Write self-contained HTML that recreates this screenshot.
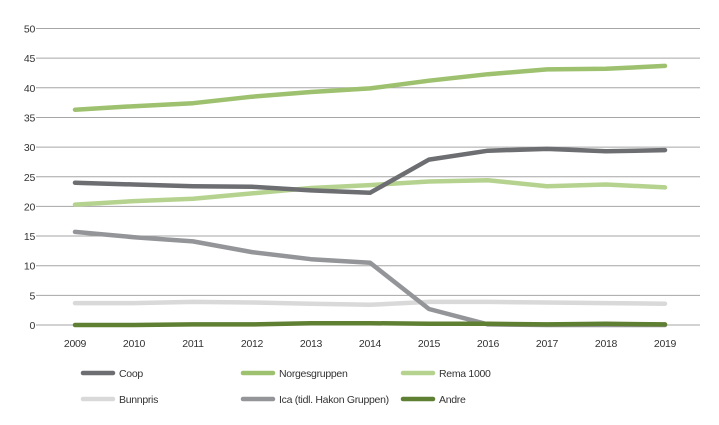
<!DOCTYPE html>
<html><head><meta charset="utf-8"><style>
html,body{margin:0;padding:0;background:#fff;}
svg{display:block;font-family:"Liberation Sans",sans-serif;}
text{letter-spacing:-0.3px;}
</style></head><body>
<svg id="chart" width="719" height="425" xmlns="http://www.w3.org/2000/svg"></svg>
<script>
const years = [2009,2010,2011,2012,2013,2014,2015,2016,2017,2018,2019];
const yTicks = [0,5,10,15,20,25,30,35,40,45,50];
const seriesNames = ["Coop","Norgesgruppen","Rema 1000","Bunnpris","Ica (tidl. Hakon Gruppen)","Andre"];
const coop = [24.0,23.7,23.4,23.3,22.7,22.3,27.9,29.4,29.7,29.3,29.5];
const norgesgruppen = [36.3,36.9,37.4,38.5,39.3,39.9,41.2,42.3,43.1,43.2,43.7];
const rema = [20.3,20.9,21.3,22.2,23.1,23.6,24.2,24.4,23.4,23.7,23.2];
const bunnpris = [3.7,3.7,3.9,3.8,3.6,3.4,3.9,3.9,3.8,3.7,3.6];
const ica = [15.7,14.8,14.1,12.3,11.1,10.5,2.7,0.1,0,0,0];
const andre = [0,0,0.1,0.1,0.3,0.3,0.2,0.2,0.1,0.2,0.1];

const svg = document.getElementById('chart');
const NS = "http://www.w3.org/2000/svg";
const x0=75, x1=665, y0=325, y1=28.5, yMax=50;
const xS = i => x0 + (x1-x0)*i/(years.length-1);
const yS = v => y0 - (y0-y1)*v/yMax;
function mk(tag, attrs){const e=document.createElementNS(NS,tag);for(const k in attrs)e.setAttribute(k,attrs[k]);svg.appendChild(e);return e;}

yTicks.forEach(t=>{
  const g=mk('line',{x1:36,x2:700,y1:yS(t),y2:yS(t),stroke:'#a6a6a6','stroke-width':1});
  
  
  const l=mk('text',{x:35,y:yS(t)+4,'text-anchor':'end','font-size':10.5,fill:'#333'});
  l.textContent=t;
  
  
});
years.forEach((yr,i)=>{
  const l=mk('text',{x:xS(i),y:347,'text-anchor':'middle','font-size':10.5,fill:'#333'});
  l.textContent=yr;
  
  
});
const colors=['#6d6e71','#9dc16e','#b5d38f','#d9d9d9','#939598','#5f7f32'];
const data=[coop,norgesgruppen,rema,bunnpris,ica,andre];
const order=[3,4,2,0,1,5];
order.forEach(s=>{
  const d=data[s].map((v,i)=>(i?'L':'M')+xS(i).toFixed(1)+' '+yS(v).toFixed(1)).join(' ');
  const p=mk('path',{d:d,fill:'none',stroke:colors[s],'stroke-width':4.5,'stroke-linejoin':'round','stroke-linecap':'round'});
  
  
});
const lx=[83,243,403], ly=[373,399];
seriesNames.forEach((n,s)=>{
  const cx=lx[s%3], cy=ly[Math.floor(s/3)];
  const ln=mk('line',{x1:cx,x2:cx+30,y1:cy,y2:cy,stroke:colors[s],'stroke-width':4.5,'stroke-linecap':'round'});
  
  
  const t=mk('text',{x:cx+36,y:cy+4,'font-size':10.5,fill:'#333'});
  t.textContent=n;
  
  
});
</script>
</body></html>
